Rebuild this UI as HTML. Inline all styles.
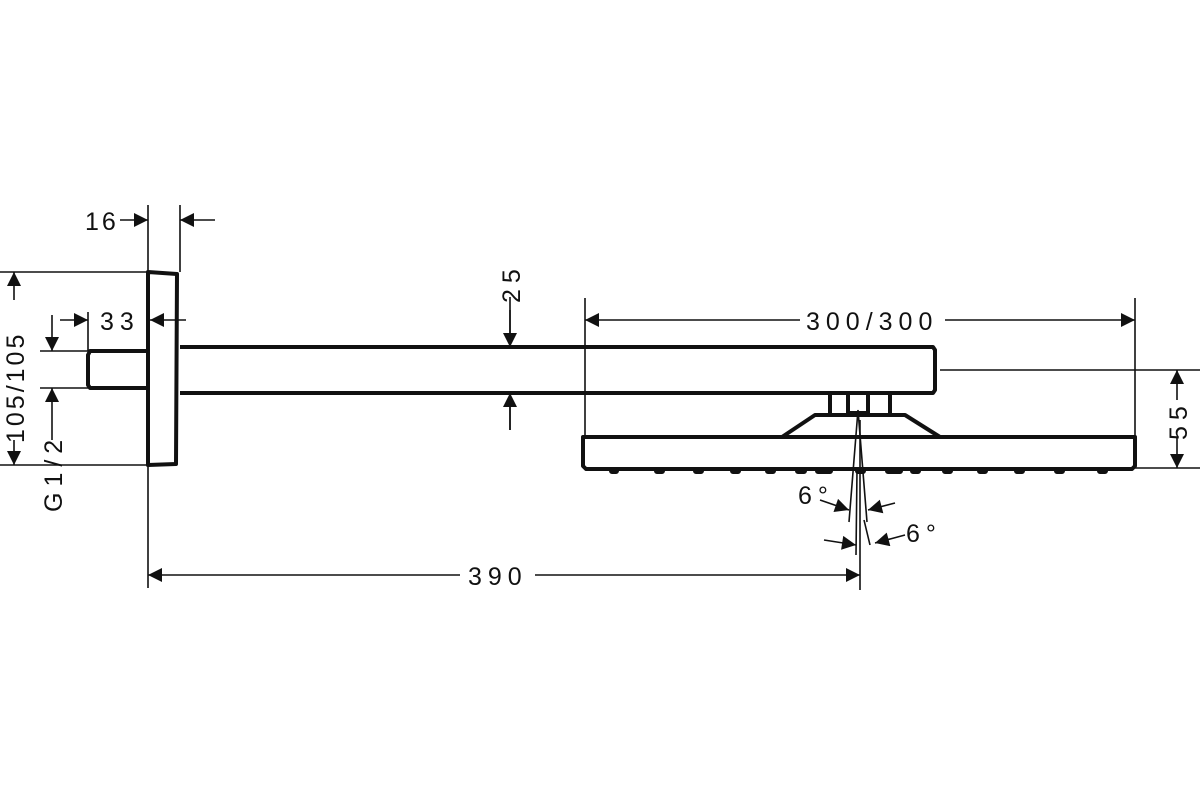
<!DOCTYPE html>
<html><head><meta charset="utf-8"><style>html,body{margin:0;padding:0;background:#fff}svg{display:block}text{font-family:"Liberation Sans",sans-serif;font-size:25px;fill:#111;letter-spacing:6px}</style></head><body>
<svg width="1200" height="800" viewBox="0 0 1200 800">
<defs><marker id="a" viewBox="0 0 10 10" refX="10" refY="5" markerWidth="18" markerHeight="14" markerUnits="userSpaceOnUse" orient="auto"><path d="M0,0L10,5L0,10z" fill="#111"/></marker></defs>
<g stroke="#111" fill="none">
<g stroke-width="4" stroke-linejoin="round">
<path d="M148,272 L177,274 L176,464 L148,465 Z"/>
<path d="M148,351 L90,351 L88,355 L88,385 L90,388 L148,388"/>
<path d="M180,347 L933,347 L935,350 L935,390 L933,393 L180,393"/>
<path d="M830,393 L830,415 M890,393 L890,415"/>
<path d="M848,395 L848,413 L868,413 L868,395"/>
<path d="M782,437 L815,415 L905,415 L940,437"/>
<path d="M583,437 L1135,437 L1135,466 L1132,469 L586,469 L583,466 Z"/>
</g>
<g stroke-width="6" stroke-linecap="round">
<path d="M612,471h4M657,471h5M696,471h5M733,471h5M768,471h5M798,471h6M818,471h12M858,471h5M888,471h12M913,471h5M945,471h5M980,471h5M1017,471h5M1057,471h5M1100,471h5"/>
</g>
<g stroke-width="1.6">
<path d="M148,205V588M180,205V272M88,312V351M0,272H148M0,465H148M40,351H88M40,388H88"/>
<path d="M585,298V437M1135,298V437M940,370H1200M1135,468H1200M510,297V347M510,393V430M860,420V590"/>
<path d="M858,410L849,522M858,410L867,522M857,470L856,555M864,520L870,545"/>
<path d="M120,220H148" marker-end="url(#a)"/><path d="M215,220H180" marker-end="url(#a)"/>
<path d="M60,320H88" marker-end="url(#a)"/><path d="M186,320H150" marker-end="url(#a)"/>
<path d="M52,315V351" marker-end="url(#a)"/><path d="M52,440V388" marker-end="url(#a)"/>
<path d="M14,300V272" marker-end="url(#a)"/><path d="M14,440V465" marker-end="url(#a)"/>
<path d="M800,320H585" marker-end="url(#a)"/><path d="M945,320H1135" marker-end="url(#a)"/>
<path d="M1177,400V370" marker-end="url(#a)"/><path d="M1177,438V468" marker-end="url(#a)"/>
<path d="M510,310V347" marker-end="url(#a)"/><path d="M510,430V393" marker-end="url(#a)"/>
<path d="M460,575H148" marker-end="url(#a)"/><path d="M535,575H860" marker-end="url(#a)"/>
<path d="M820,500L849,510" marker-end="url(#a)"/><path d="M895,503L868,510" marker-end="url(#a)"/>
<path d="M824,540L856,545" marker-end="url(#a)"/><path d="M905,535L875,543" marker-end="url(#a)"/>
</g>
</g>
<text x="85" y="230" style="letter-spacing:3px">16</text>
<text x="100" y="330">33</text>
<text x="806" y="330">300/300</text>
<text x="468" y="585">390</text>
<text x="798" y="504">6°</text>
<text x="906" y="542">6°</text>
<text transform="translate(520,303) rotate(-90)">25</text>
<text transform="translate(1187,440) rotate(-90)">55</text>
<text transform="translate(24,443) rotate(-90)" style="letter-spacing:3px">105/105</text>
<text transform="translate(62,512) rotate(-90)">G1/2</text>
</svg>
</body></html>
